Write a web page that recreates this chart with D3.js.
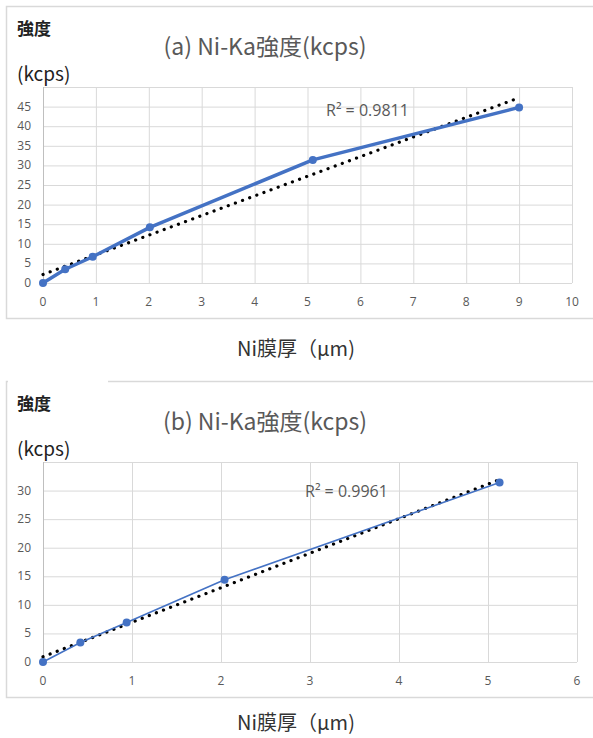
<!doctype html>
<html lang="ja">
<head>
<meta charset="utf-8">
<title>Ni-Ka強度</title>
<script src="https://d3js.org/d3.v7.min.js"></script>
<style>
  body { margin: 0; padding: 0; background: #fff; }
  svg { display: block; }
</style>
</head>
<body>
<svg id="chart" width="593" height="738"></svg>
<script>
// (a) data
const thickA = [0, 0.42, 0.94, 2.02, 5.1, 9];
const kcpsA = [0, 3.5, 6.7, 14.2, 31.4, 44.8];
const xTicksA = [0, 1, 2, 3, 4, 5, 6, 7, 8, 9, 10];
const yTicksA = [0, 5, 10, 15, 20, 25, 30, 35, 40, 45, 50];

// (b) data
const thickB = [0, 0.42, 0.94, 2.04, 5.13];
const kcpsB = [0, 3.4, 6.9, 14.4, 31.4];
const xTicksB = [0, 1, 2, 3, 4, 5, 6];
const yTicksB = [0, 5, 10, 15, 20, 25, 30, 35];

const blue = "#4472c4";
const grey = "#595959";
const jp = "'Noto Sans CJK JP', 'Noto Sans', sans-serif";

const svg = d3.select("#chart");

// 最小二乗の線形近似
function linFit(xs, ys) {
  const mx = d3.mean(xs), my = d3.mean(ys);
  const sxy = d3.sum(xs, (x, i) => (x - mx) * (ys[i] - my));
  const sxx = d3.sum(xs, x => (x - mx) * (x - mx));
  const b = sxy / sxx;
  return { slope: b, icpt: my - b * mx };
}

function panel(p) {
  const g = svg.append("g");

  // 外枠
  g.append("rect")
    .attr("x", 6.5).attr("y", p.top + 0.5)
    .attr("width", 600).attr("height", p.bottom - p.top)
    .attr("fill", "none").attr("stroke", "#d9d9d9").attr("stroke-width", 1.5);
  if (p.cover) {
    g.append("rect").attr("x", 8).attr("y", p.top - 2)
      .attr("width", p.cover).attr("height", 6).attr("fill", "#fff");
  }

  const x = d3.scaleLinear().domain(d3.extent(p.xTicks)).range([43, p.right]);
  const y = d3.scaleLinear().domain(d3.extent(p.yTicks)).range([p.y0, p.y1]);

  // グリッド
  g.append("g").selectAll("line").data(p.yTicks).join("line")
    .attr("x1", 43).attr("x2", p.right)
    .attr("y1", d => y(d) + 0.5).attr("y2", d => y(d) + 0.5)
    .attr("stroke", "#d9d9d9");
  g.append("g").selectAll("line").data(p.xTicks.slice(1)).join("line")
    .attr("x1", d => x(d) + 0.5).attr("x2", d => x(d) + 0.5)
    .attr("y1", p.y1).attr("y2", p.y0)
    .attr("stroke", "#d9d9d9");
  g.append("line")
    .attr("x1", 43.5).attr("x2", 43.5).attr("y1", p.y1).attr("y2", p.y0)
    .attr("stroke", "#bfbfbf");

  // 目盛ラベル
  g.append("g").selectAll("text").data(p.yTicks.slice(0, -1)).join("text")
    .attr("x", 31).attr("y", d => y(d) + 4)
    .attr("text-anchor", "end")
    .attr("font-family", "'Open Sans', sans-serif").attr("font-size", 12)
    .attr("fill", grey).text(d => d);
  g.append("g").selectAll("text").data(p.xTicks).join("text")
    .attr("x", d => x(d)).attr("y", p.y0 + 23)
    .attr("text-anchor", "middle")
    .attr("font-family", "'Open Sans', sans-serif").attr("font-size", 12)
    .attr("fill", grey).text(d => d);

  // 近似直線（点線）
  const f = linFit(p.xs, p.ys);
  const x2 = d3.max(p.xs);
  g.append("line")
    .attr("x1", x(0)).attr("y1", y(f.icpt))
    .attr("x2", x(x2)).attr("y2", y(f.icpt + f.slope * x2))
    .attr("stroke", "#000").attr("stroke-width", 3.2)
    .attr("stroke-linecap", "round").attr("stroke-dasharray", "0.1 7.5");

  // データ系列
  const pts = p.xs.map((d, i) => [d, p.ys[i]]);
  g.append("path").datum(pts)
    .attr("d", d3.line().x(d => x(d[0])).y(d => y(d[1])))
    .attr("fill", "none").attr("stroke", blue)
    .attr("stroke-width", p.lw).attr("stroke-linejoin", "round");
  g.append("g").selectAll("circle").data(pts).join("circle")
    .attr("cx", d => x(d[0])).attr("cy", d => y(d[1]))
    .attr("r", 4).attr("fill", blue);

  // R²
  g.append("text")
    .attr("x", p.r2x).attr("y", p.r2y)
    .attr("font-family", "'Open Sans', sans-serif").attr("font-size", 16)
    .attr("fill", grey).text(p.r2);

  // タイトル・軸ラベル
  g.append("text")
    .attr("x", 265).attr("y", p.top + 49)
    .attr("text-anchor", "middle")
    .attr("font-family", jp).attr("font-size", 23)
    .attr("fill", grey).text(p.title);
  g.append("text")
    .attr("x", 17).attr("y", p.top + 29)
    .attr("font-family", jp).attr("font-size", 17).attr("font-weight", 700)
    .attr("fill", "#222").text("強度");
  g.append("text")
    .attr("x", 17).attr("y", p.top + 75)
    .attr("font-family", jp).attr("font-size", 19)
    .attr("fill", "#222").text("(kcps)");
  g.append("text")
    .attr("x", 296).attr("y", p.labelY)
    .attr("text-anchor", "middle")
    .attr("font-family", jp).attr("font-size", 20)
    .attr("fill", "#333").text("Ni膜厚（μm)");
}

panel({
  top: 6, bottom: 318, right: 572, y0: 283, y1: 87,
  xs: thickA, ys: kcpsA, xTicks: xTicksA, yTicks: yTicksA,
  lw: 3.5, r2: "R² = 0.9811", r2x: 326, r2y: 116,
  title: "(a) Ni-Ka強度(kcps)", cover: 0, labelY: 356
});
panel({
  top: 381, bottom: 697, right: 577, y0: 662, y1: 462,
  xs: thickB, ys: kcpsB, xTicks: xTicksB, yTicks: yTicksB,
  lw: 1.6, r2: "R² = 0.9961", r2x: 305, r2y: 497,
  title: "(b) Ni-Ka強度(kcps)", cover: 100, labelY: 730
});
</script>
</body>
</html>
